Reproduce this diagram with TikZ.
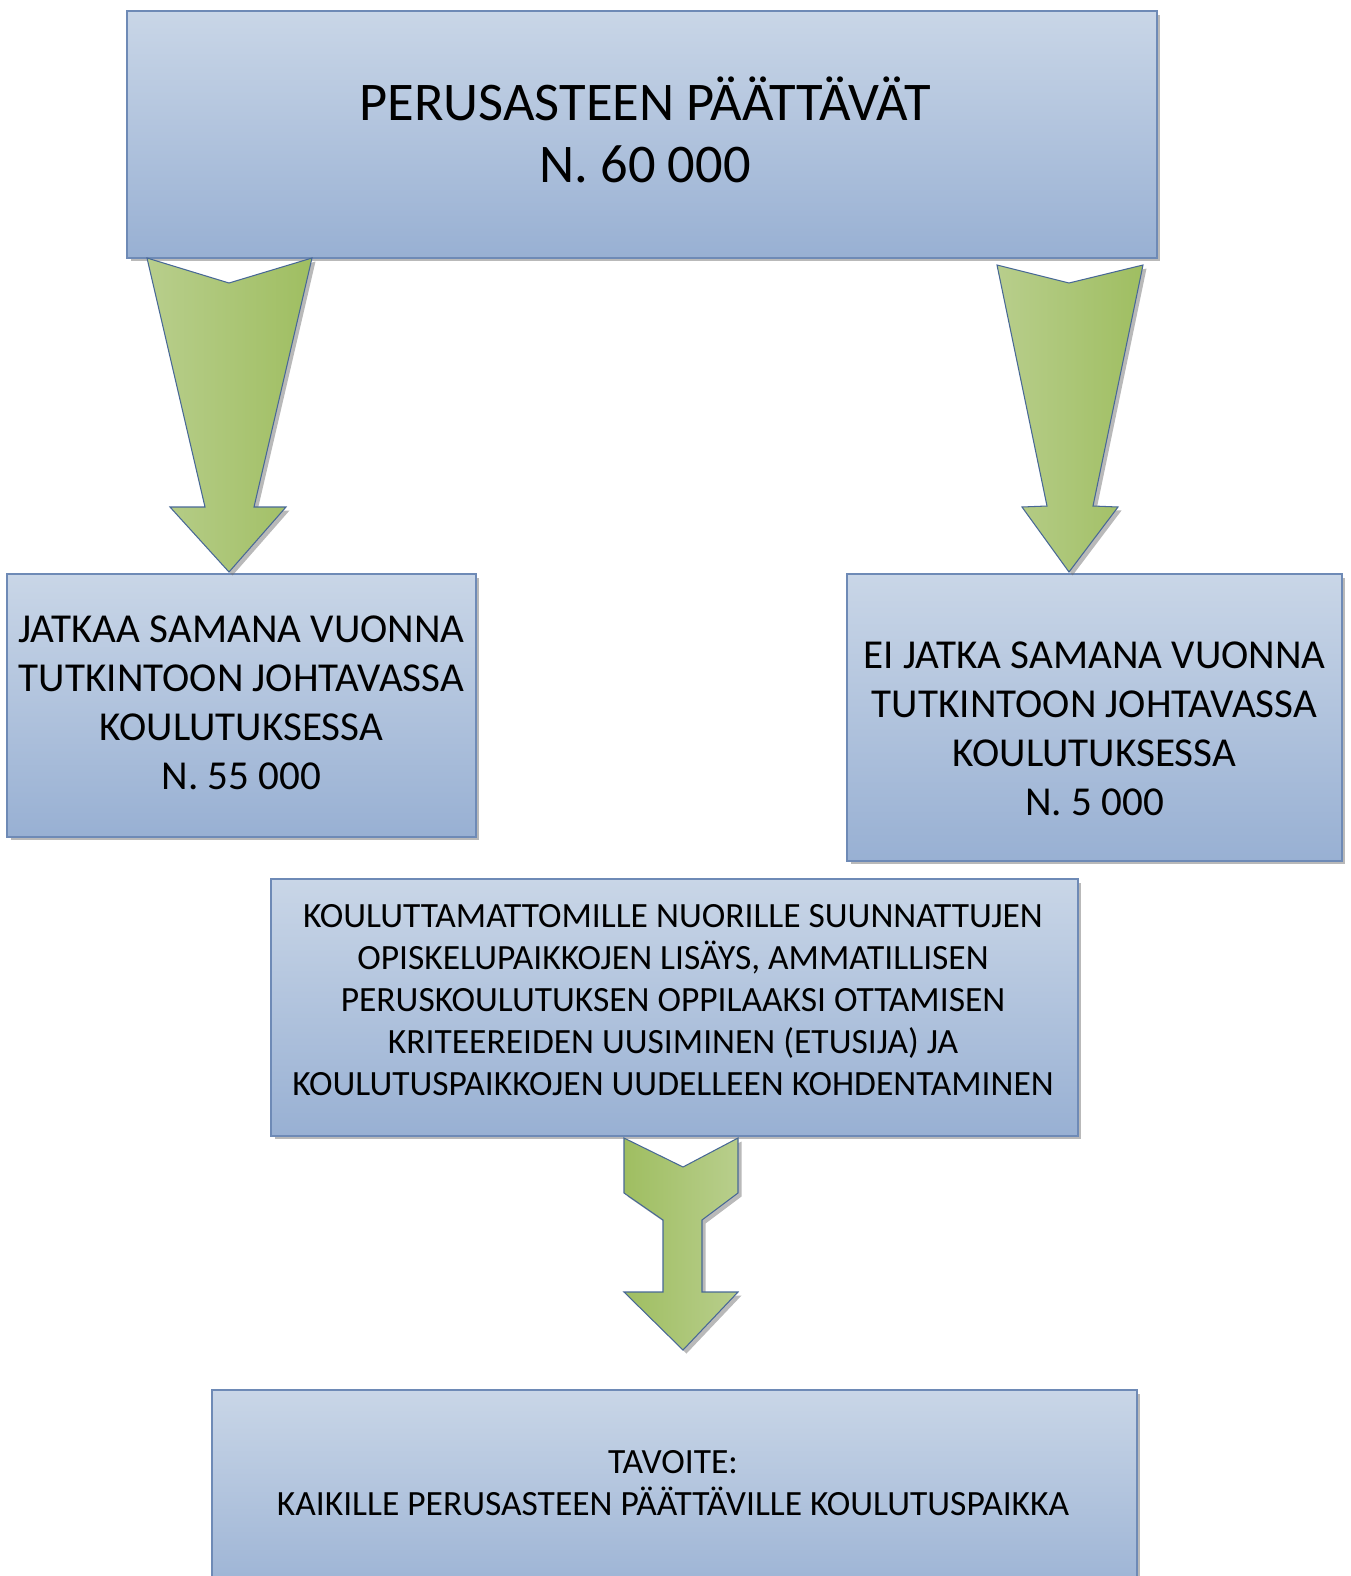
\documentclass[tikz,border=0pt]{standalone}
\usepackage{fontspec}
\setmainfont{Carlito}
\usetikzlibrary{shadows}
\definecolor{boxtop}{RGB}{201,214,231}
\definecolor{boxbottom}{RGB}{152,176,211}
\definecolor{boxline}{RGB}{110,138,182}
\definecolor{arrowlight}{RGB}{184,206,140}
\definecolor{arrowdark}{RGB}{159,190,97}
\definecolor{arrowline}{RGB}{72,104,150}
\begin{document}
\begin{tikzpicture}[
    x=0.02cm, y=-0.02cm,
    box/.style={rectangle, draw=boxline, line width=0.7pt, top color=boxtop, bottom color=boxbottom,
        drop shadow={shadow xshift=0.07cm, shadow yshift=-0.07cm, fill=black!55, opacity=0.5}},
    blockarrow/.style={draw=arrowline, line width=0.6pt, line join=miter,
        drop shadow={shadow xshift=0.07cm, shadow yshift=-0.07cm, fill=black!55, opacity=0.5}},
    bigtxt/.style={align=center, font=\fontsize{31}{35}\selectfont},
    midtxt/.style={align=center, font=\fontsize{23.4}{27.8}\selectfont},
    smalltxt/.style={align=center, font=\fontsize{20.2}{23.8}\selectfont}
]
    \useasboundingbox (0,0) rectangle (1350,1576);
    \clip (0,0) rectangle (1350,1576);

    % boxes
    \node[box, minimum width=20.6cm, minimum height=4.94cm] (paattavat) at (642,134.5) {};
    \node[box, minimum width=9.38cm, minimum height=5.26cm] (jatkaa) at (241.5,705.5) {};
    \node[box, minimum width=9.9cm, minimum height=5.74cm] (eijatka) at (1094.5,717.5) {};
    \node[box, minimum width=16.14cm, minimum height=5.14cm] (toimet) at (674.5,1007.5) {};
    \node[box, minimum width=18.5cm, minimum height=4.4cm] (tavoite) at (674.5,1500) {};

    % texts
    \node[bigtxt] (paattavattxt) at (645,130) {PERUSASTEEN PÄÄTTÄVÄT\\N. 60 000};
    \node[midtxt] (jatkaatxt) at (241.5,703) {JATKAA SAMANA VUONNA\\TUTKINTOON JOHTAVASSA\\KOULUTUKSESSA\\N. 55 000};
    \node[midtxt] (eijatkatxt) at (1094.5,729) {EI JATKA SAMANA VUONNA\\TUTKINTOON JOHTAVASSA\\KOULUTUKSESSA\\N. 5 000};
    \node[smalltxt] (toimettxt) at (673,1000) {KOULUTTAMATTOMILLE NUORILLE SUUNNATTUJEN\\OPISKELUPAIKKOJEN LISÄYS, AMMATILLISEN\\PERUSKOULUTUKSEN OPPILAAKSI OTTAMISEN\\KRITEEREIDEN UUSIMINEN (ETUSIJA) JA\\KOULUTUSPAIKKOJEN UUDELLEEN KOHDENTAMINEN};
    \node[smalltxt] (tavoitetxt) at (673,1483) {TAVOITE:\\KAIKILLE PERUSASTEEN PÄÄTTÄVILLE KOULUTUSPAIKKA};

    % arrows
    \draw[blockarrow, left color=arrowlight, right color=arrowdark]
        (147,258) -- (229,283) -- (312,258) -- (254,507) -- (286,507) -- (229,572)
        -- (170,507) -- (205,507) -- cycle;
    \draw[blockarrow, left color=arrowlight, right color=arrowdark]
        (997,265) -- (1069,283) -- (1143,265) -- (1093,506) -- (1118,507) -- (1069,572)
        -- (1022,507) -- (1047,506) -- cycle;
    \draw[blockarrow, left color=arrowdark, right color=arrowlight]
        (624,1138) -- (683,1167) -- (738,1138) -- (738,1193) -- (702,1220) -- (702,1292)
        -- (738,1292) -- (683,1350) -- (624,1292) -- (663,1292) -- (663,1220) -- (624,1193) -- cycle;
\end{tikzpicture}
\end{document}
